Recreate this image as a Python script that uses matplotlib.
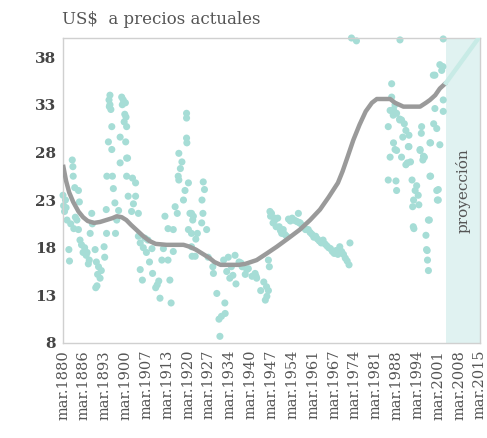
import matplotlib
matplotlib.use("Agg")
import matplotlib.pyplot as plt
import numpy as np

# ---- data ----
dot_years = [
    1880.0, 1880.2, 1880.5, 1880.8, 1881.0, 1883.0, 1883.2, 1883.3, 1881.9, 1882.1,
    1881.3, 1882.5, 1883.5, 1884.5, 1885.0, 1885.0, 1885.3, 1885.5, 1886.0, 1886.5,
    1887.5, 1888.5, 1887.0, 1889.3, 1889.5, 1888.8, 1890.4, 1890.8, 1891.2, 1891.0,
    1890.6, 1891.5, 1893.3, 1893.5, 1894.1, 1894.0, 1894.2, 1896.0, 1894.7, 1895.8,
    1895.2, 1895.2, 1895.5, 1895.8, 1896.8, 1897.4, 1897.0, 1898.5, 1898.5, 1899.0,
    1899.5, 1900.0, 1900.6, 1900.6, 1900.6, 1901.1, 1900.2, 1900.4, 1900.3, 1900.9,
    1902.5, 1903.5, 1903.5, 1902.2, 1904.4, 1904.4, 1905.0, 1906.0, 1907.0, 1908.0,
    1908.8, 1905.0, 1905.7, 1909.0, 1910.0, 1911.0, 1911.4, 1912.0, 1914.0, 1912.5,
    1913.0, 1914.0, 1914.6, 1915.0, 1915.7, 1915.7, 1916.3, 1917.0, 1917.3, 1917.5,
    1917.5, 1918.5, 1920.0, 1920.0, 1920.0, 1920.1, 1920.6, 1919.0, 1921.1, 1922.0,
    1920.6, 1921.6, 1921.8, 1921.6, 1921.6, 1925.4, 1925.8, 1925.0, 1925.3, 1924.9,
    1926.5, 1922.2, 1923.5, 1923.0, 1922.8, 1927.0, 1928.5, 1928.7, 1929.8, 1932.4,
    1932.5, 1930.5, 1931.3, 1930.8, 1932.0, 1933.0, 1934.0, 1935.7, 1937.0, 1938.0,
    1939.0, 1940.0, 1942.5, 1933.5, 1934.5, 1935.0, 1936.0, 1937.6, 1939.5, 1941.2,
    1942.7, 1944.0, 1945.5, 1945.9, 1946.5, 1946.8, 1942.2, 1945.0, 1946.5, 1946.0,
    1947.0, 1947.2, 1947.5, 1948.0, 1948.5, 1948.6, 1949.0, 1949.5, 1950.0, 1950.4,
    1950.8, 1951.3, 1951.8, 1952.4, 1953.0, 1953.6, 1954.2, 1954.8, 1955.4, 1956.0,
    1956.7, 1956.2, 1956.7, 1957.3, 1957.9, 1958.5, 1959.0, 1959.4, 1960.0, 1960.6,
    1961.2, 1961.8, 1962.4, 1963.0, 1963.6, 1964.2, 1964.8, 1965.4, 1966.0, 1966.6,
    1967.2, 1967.8, 1968.4, 1969.0, 1969.6, 1970.2, 1970.8, 1971.4, 1972.0, 1972.6,
    1972.9, 1973.4, 1975.0,
    1986.4, 1986.4, 1985.9, 1986.9, 1985.3, 1988.0, 1989.0, 1989.6, 1991.0, 1989.1,
    1987.0, 1988.0, 1985.9, 1989.6, 1991.0, 1992.5, 1991.8, 1985.3, 1987.8, 1988.0,
    1993.0, 1994.0, 1995.0, 1993.5, 1993.2, 1993.6, 1995.6, 1996.5, 1996.1, 1997.5,
    1997.9, 1998.0, 1998.3, 1998.6, 1999.0, 1999.0, 2000.0, 2001.0, 2002.0, 2001.0,
    2001.2, 2000.4, 2000.4, 2002.0, 2003.1, 2003.1, 2003.1, 1987.0, 1989.0, 1987.5,
    1991.5, 1992.0, 1993.4, 1996.7, 1998.8, 1998.8, 1998.3, 1997.7, 2001.5, 2001.5,
    2003.0, 1990.0, 1992.0, 1994.5, 1995.2,
    1894.9, 1895.0, 1899.2, 1899.8, 1896.3, 1898.0, 1883.8, 1884.0, 1887.8, 1888.2,
    1892.0, 1892.4, 1902.8, 1906.5, 1907.5, 1910.5, 1918.0, 1919.5, 1987.5, 1990.5,
    1999.9, 2002.6, 1997.0, 1995.6, 1996.0,
]
dot_prices = [
    23.5, 22.4, 21.8, 23.0, 22.2, 27.2, 26.5, 25.5, 17.8, 16.6,
    20.9, 20.5, 20.0, 20.9, 19.9, 24.0, 22.8, 18.8, 18.3, 17.5,
    17.2, 16.7, 18.0, 21.6, 20.5, 19.5, 17.8, 16.5, 15.2, 14.0,
    13.8, 16.0, 18.1, 17.0, 19.5, 22.0, 25.5, 25.5, 29.1, 28.3,
    34.0, 33.0, 32.5, 30.7, 22.7, 20.9, 19.5, 29.6, 26.9, 33.8,
    33.5, 32.0, 30.7, 27.4, 25.5, 23.4, 33.2, 31.7, 29.1, 27.4,
    25.3, 24.8, 23.4, 21.8, 21.6, 19.2, 18.5, 18.0, 17.5, 16.5,
    17.9, 15.7, 14.6, 15.3, 13.8, 14.5, 12.7, 16.7, 16.7, 17.9,
    21.3, 20.0, 14.6, 12.2, 17.6, 19.9, 22.3, 21.6, 25.5, 25.1,
    27.9, 27.0, 32.1, 31.6, 29.5, 29.0, 24.8, 23.0, 21.6, 20.9,
    19.9, 18.1, 17.1, 21.6, 19.5, 24.9, 24.1, 23.0, 21.6, 20.6,
    19.9, 21.3, 19.5, 18.9, 17.1, 17.0, 16.0, 15.3, 13.2, 12.2,
    11.1, 10.5, 10.8, 8.7, 16.7, 15.5, 14.8, 17.2, 16.5, 16.0,
    15.2, 15.8, 15.0, 17.0, 16.0, 15.1, 14.2, 16.4, 15.7, 15.0,
    14.8, 13.5, 12.5, 13.9, 16.7, 16.0, 15.3, 14.4, 13.5, 12.9,
    21.8, 21.3, 21.6, 20.6, 21.1, 20.9, 20.2, 21.1, 20.2, 19.8,
    19.5, 19.9, 19.4, 19.2, 21.0, 20.8, 21.1, 20.9, 20.8, 20.7,
    20.6, 21.6, 20.6, 20.4, 20.2, 19.9, 19.9, 19.9, 19.6, 19.4,
    19.1, 19.2, 18.9, 18.7, 18.5, 18.8, 18.4, 18.2, 18.0, 17.9,
    17.6, 17.4, 17.7, 17.3, 18.1, 17.6, 17.3, 16.9, 16.6, 16.2,
    18.5, 40.0, 39.7,
    35.2, 33.8, 32.4, 31.9, 30.7, 32.1, 31.4, 31.4, 30.3, 39.8,
    29.0, 28.2, 27.5, 27.5, 26.7, 27.0, 28.6, 25.1, 25.0, 24.0,
    25.1, 24.0, 23.5, 23.0, 22.3, 20.0, 28.2, 27.2, 30.7, 19.3,
    17.7, 16.7, 15.6, 20.9, 29.0, 25.5, 31.0, 30.5, 28.8, 24.0,
    23.0, 32.6, 36.1, 37.2, 33.5, 32.3, 39.9, 32.5, 31.5, 28.3,
    26.9, 28.6, 20.2, 27.6, 29.0, 25.5, 20.9, 17.8, 24.1, 23.0,
    37.0, 29.6, 29.8, 24.5, 22.5,
    33.5, 32.8, 33.0, 31.2, 24.2, 21.9, 24.3, 21.2, 17.5, 16.3,
    14.8, 15.6, 22.6, 19.0, 18.8, 14.1, 26.3, 24.0, 33.0, 31.0,
    36.1, 36.6, 27.5, 28.3, 30.0,
]

trend_years = [1880, 1881, 1882, 1883.3, 1885, 1886.5, 1888, 1890, 1892, 1894, 1896,
               1897.4, 1899, 1900.5, 1902, 1904, 1906, 1908, 1910, 1913.5, 1919, 1921,
               1923, 1925, 1927.5, 1929, 1931, 1937, 1939, 1942.7, 1946, 1949.2, 1953,
               1956.7, 1960, 1963.2, 1966, 1969, 1970.5, 1972, 1974, 1976, 1978, 1980,
               1981.6, 1985.9, 1987.5, 1990.2, 1995.6, 1997.5, 1998.8, 2000.5, 2002, 2004]
trend_values = [26.7, 25.0, 23.8, 22.8, 21.8, 21.2, 20.8, 20.6, 20.7, 20.9, 21.1,
                21.3, 21.2, 20.9, 20.4, 19.8, 19.2, 18.7, 18.4, 18.3, 18.3, 18.1,
                17.8, 17.4, 16.9, 16.5, 16.2, 16.2, 16.3, 16.7, 17.4, 18.1, 19.0,
                19.9, 20.9, 22.0, 23.3, 24.8, 26.0, 27.4, 29.3, 30.9, 32.3, 33.2,
                33.6, 33.6, 33.2, 32.8, 32.8, 33.2, 33.5, 34.0, 34.7, 35.3]

proj_years = [2004, 2015]
proj_values = [35.3, 40.2]
proj_start, proj_end = 2004.0, 2015.0

tick_labels = ["mar.1880", "mar.1886", "mar.1893", "mar.1900", "mar.1907", "mar.1913",
               "mar.1920", "mar.1927", "mar.1934", "mar.1940", "mar.1947", "mar.1954",
               "mar.1961", "mar.1967", "mar.1974", "mar.1981", "mar.1988", "mar.1994",
               "mar.2001", "mar.2008", "mar.2015"]
y_ticks = [8, 13, 18, 23, 28, 33, 38]

# ---- drawing ----
plt.rcParams['font.family'] = ['DejaVu Serif']
fig = plt.figure(figsize=(4.87, 4.38), dpi=100)
ax = fig.add_axes([63/487, 95/438, 417/487, 305/438])

ax.axvspan(proj_start, proj_end, color="#e0f2f1", zorder=0, lw=0)
ax.scatter(dot_years, dot_prices, s=26, color="#a6ddd6", edgecolors="none",
           zorder=2, clip_on=False)
ax.plot(trend_years, trend_values, color="#9a9a9a", lw=3.2, zorder=3,
        solid_capstyle="butt")
ax.plot(proj_years, proj_values, color="#c8ebe6", lw=3.2, zorder=3)

ax.set_xlim(1880, 2015)
ax.set_ylim(8, 40)
ax.set_xticks([1880 + 6.75 * i for i in range(len(tick_labels))])
ax.set_xticklabels(tick_labels, rotation=90, fontsize=10.5, color="#555555")
ax.set_yticks(y_ticks)
ax.set_yticklabels([str(v) for v in y_ticks], fontsize=11, color="#444444",
                   fontweight="bold")
ax.tick_params(length=0, pad=5)
for sp in ax.spines.values():
    sp.set_color("#d0d0d0")
    sp.set_linewidth(1.0)

ax.text(2009.6, 24, "proyección", rotation=90, ha="center", va="center",
        fontsize=11, color="#555555")
fig.text(62/487, 1 - 20/438, "US$  a precios actuales", ha="left", va="center",
         fontsize=12, color="#555555")

fig.savefig("out.png", dpi=100)
